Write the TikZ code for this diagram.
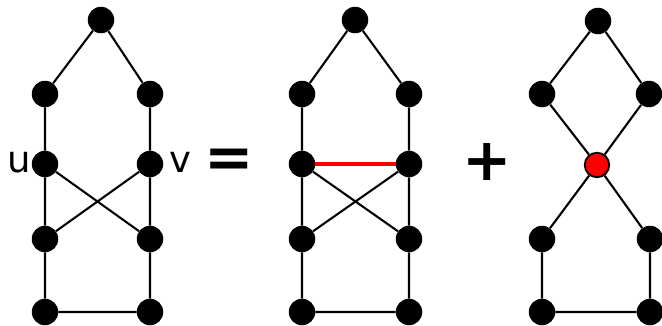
\documentclass[tikz,border=0pt]{standalone}
\usepackage{fontspec}
\setmainfont{DejaVu Sans}
\begin{document}
\begin{tikzpicture}[x=1pt,y=-1pt,
  vtx/.style={circle,fill=black,inner sep=0pt,minimum size=26.5pt},
  rvtx/.style={circle,fill=red,draw=black,line width=1.8pt,inner sep=0pt,minimum size=24.5pt},
  edge/.style={line width=2.1pt},
  redge/.style={line width=4pt,red},
  lbl/.style={font=\fontsize{37}{40}\selectfont,inner sep=0pt},
  op/.style={font=\bfseries\fontsize{59}{62}\selectfont,inner sep=0pt}]
\useasboundingbox (0,0) rectangle (662,325);
% graph 1
\node[vtx] (a1) at (101,20) {};
\node[vtx] (a2) at (45,94) {};
\node[vtx] (a3) at (150,94) {};
\node[vtx] (a4) at (45,164) {};
\node[vtx] (a5) at (150,164) {};
\node[vtx] (a6) at (45,239) {};
\node[vtx] (a7) at (150,239) {};
\node[vtx] (a8) at (45,312) {};
\node[vtx] (a9) at (150,312) {};
\draw[edge] (a1)--(a2) (a1)--(a3) (a2)--(a4) (a3)--(a5) (a4)--(a6) (a5)--(a7)
  (a4)--(a7) (a5)--(a6) (a6)--(a8) (a7)--(a9) (a8)--(a9);
\node[lbl] (u) at (19,162) {u};
\node[lbl] (v) at (180,162) {v};
\node[op] (eq) at (229,163) {=};
% graph 2
\node[vtx] (b1) at (355,20) {};
\node[vtx] (b2) at (302,94) {};
\node[vtx] (b3) at (409,94) {};
\node[vtx] (b4) at (302,164) {};
\node[vtx] (b5) at (409,164) {};
\node[vtx] (b6) at (302,239) {};
\node[vtx] (b7) at (409,239) {};
\node[vtx] (b8) at (302,312) {};
\node[vtx] (b9) at (409,312) {};
\draw[edge] (b1)--(b2) (b1)--(b3) (b2)--(b4) (b3)--(b5) (b4)--(b6) (b5)--(b7)
  (b4)--(b7) (b5)--(b6) (b6)--(b8) (b7)--(b9) (b8)--(b9);
\draw[redge] (b4)--(b5);
\node[op] (plus) at (487,162) {+};
% graph 3
\node[vtx] (c1) at (598,21) {};
\node[vtx] (c2) at (542,94) {};
\node[vtx] (c3) at (649,94) {};
\node[rvtx] (c4) at (597,165) {};
\node[vtx] (c6) at (542,239) {};
\node[vtx] (c7) at (650,239) {};
\node[vtx] (c8) at (542,312) {};
\node[vtx] (c9) at (650,312) {};
\draw[edge] (c1)--(c2) (c1)--(c3) (c2)--(c4) (c3)--(c4) (c4)--(c6) (c4)--(c7)
  (c6)--(c8) (c7)--(c9) (c8)--(c9);
\end{tikzpicture}
\end{document}
